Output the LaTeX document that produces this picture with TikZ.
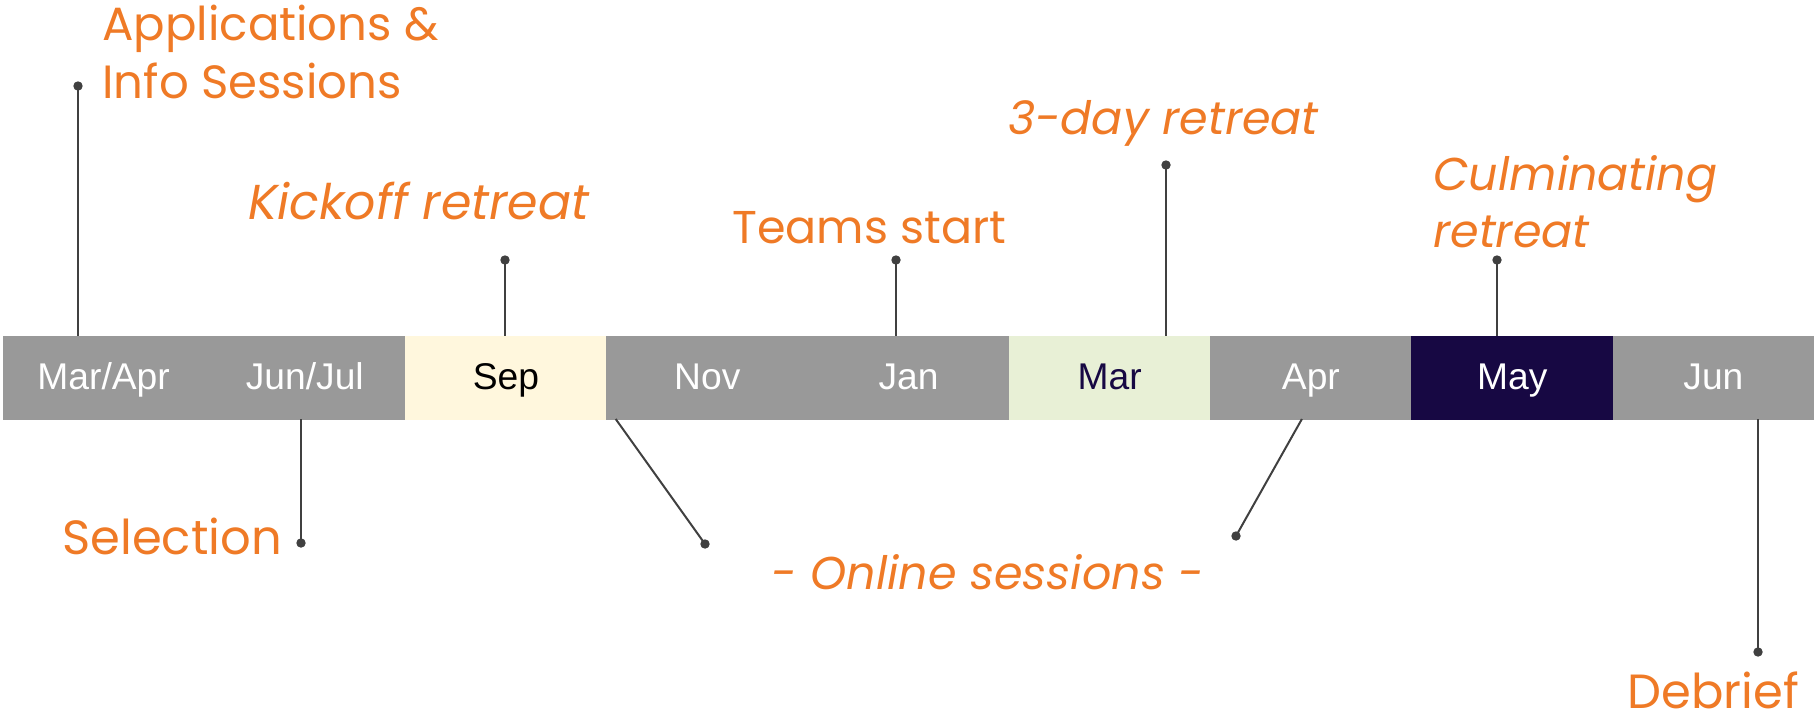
\documentclass[tikz,border=0pt]{standalone}
\usepackage{fontspec}
\setmainfont{Poppins}
\newfontfamily\barfont{Liberation Sans}
\definecolor{orng}{HTML}{EF7A26}
\definecolor{barg}{HTML}{999999}
\definecolor{sepy}{HTML}{FFF7DD}
\definecolor{marg}{HTML}{E8F0D6}
\definecolor{navy}{HTML}{170843}
\definecolor{dotc}{HTML}{404040}
\tikzset{
  cell/.style={rectangle, inner sep=0pt, outer sep=0pt, minimum width=100.611pt,
    minimum height=41.5pt, font=\barfont\fontsize{18.6pt}{20pt}\selectfont,
    text height=11.8pt, text depth=0pt, line width=0.3pt},
  graycell/.style={cell, fill=barg, draw=barg, text=white},
  lbl/.style={text=orng, inner sep=0pt, anchor=base west, font=\fontsize{#1}{29pt}\selectfont},
  lbl/.default=23pt,
  ilbl/.style={lbl, font=\itshape\fontsize{#1}{29pt}\selectfont},
  ilbl/.default=23pt,
  dotnode/.style={circle, fill=dotc, inner sep=0pt, minimum size=4.7pt},
  conn/.style={draw=dotc, line width=1pt}
}
\begin{document}
\begin{tikzpicture}[x=0.5pt,y=-0.5pt]
\useasboundingbox (0,0) rectangle (1814,723);
% bar cells
\node[graycell] (c1) at (103.6,377.5) {Mar/Apr};
\node[graycell] (c2) at (304.8,377.5) {Jun/Jul};
\node[cell, fill=sepy, draw=sepy, text=black] (c3) at (506.0,377.5) {Sep};
\node[graycell] (c4) at (707.3,377.5) {Nov};
\node[graycell] (c5) at (908.5,377.5) {Jan};
\node[cell, fill=marg, draw=marg, text=navy] (c6) at (1109.7,377.5) {Mar};
\node[graycell] (c7) at (1310.9,377.5) {Apr};
\node[cell, fill=navy, draw=navy, text=white] (c8) at (1512.2,377.5) {May};
\node[graycell] (c9) at (1713.4,377.5) {Jun};
% dots
\node[dotnode] (d1) at (78,86) {};
\node[dotnode] (d2) at (505,260) {};
\node[dotnode] (d3) at (896,260) {};
\node[dotnode] (d4) at (1166,165) {};
\node[dotnode] (d5) at (1497,260) {};
\node[dotnode] (d6) at (301,543) {};
\node[dotnode] (d7) at (705,544) {};
\node[dotnode] (d8) at (1236,536) {};
\node[dotnode] (d9) at (1758,652) {};
% connectors
\draw[conn] (d1.center) -- (d1.center |- c1.north);
\draw[conn] (d2.center) -- (d2.center |- c3.north);
\draw[conn] (d3.center) -- (d3.center |- c5.north);
\draw[conn] (d4.center) -- (d4.center |- c6.north);
\draw[conn] (d5.center) -- (d5.center |- c8.north);
\draw[conn] (d6.center |- c2.south) -- (d6.center);
\draw[conn] ([xshift=4.5pt]c4.south west) -- (d7.center);
\draw[conn] ([xshift=-4.5pt]c7.south) -- (d8.center);
\draw[conn] (d9.center |- c9.south) -- (d9.center);
% labels
\node[lbl=23.3pt] (l1a) at (102,40) {Applications \&};
\node[lbl=23.3pt] (l1b) at (102,98) {Info Sessions};
\node[ilbl=24.5pt] (l2) at (248,219) {Kickoff retreat};
\node[lbl] (l3) at (732,243) {Teams start};
\node[ilbl] (l4) at (1008,134) {3-day retreat};
\node[ilbl] (l5a) at (1433,190) {Culminating};
\node[ilbl] (l5b) at (1433,247) {retreat};
\node[lbl=24pt] (l6) at (62,554) {Selection};
\node[ilbl] (l7) at (771,589) {- Online sessions -};
\node[lbl=24pt, text depth=0pt] (l8) at (1627,708) {Debrief};
\end{tikzpicture}
\end{document}
